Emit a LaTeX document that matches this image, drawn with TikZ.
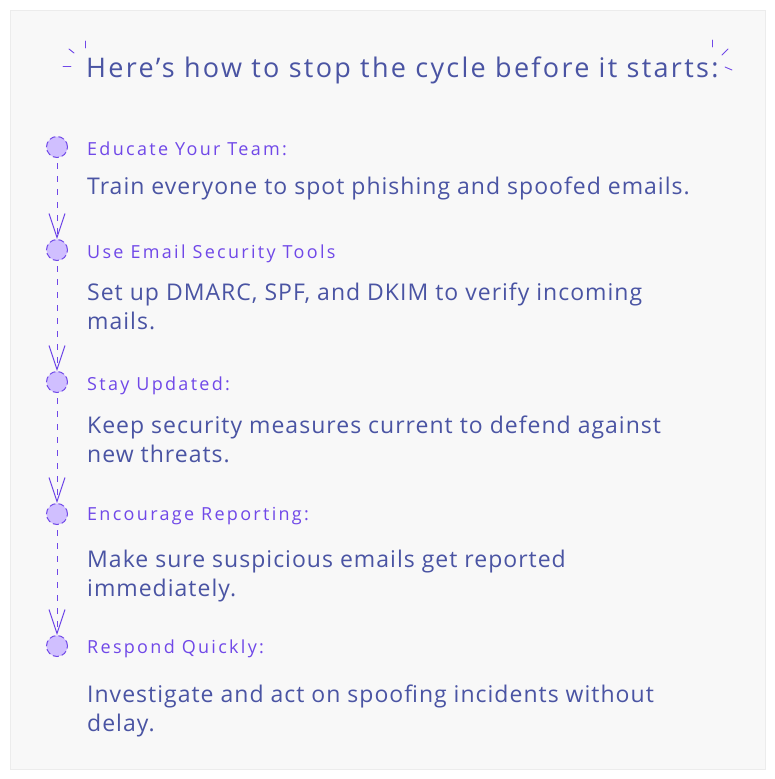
\documentclass[tikz,border=0pt]{standalone}
\usepackage{fontspec}
\setmainfont{Open Sans}
\usetikzlibrary{arrows.meta}
\definecolor{inkblue}{HTML}{4A54A3}
\definecolor{violet}{HTML}{7048E8}
\definecolor{lilac}{HTML}{D0BFFF}
\definecolor{paper}{HTML}{F8F8F8}
\definecolor{rim}{HTML}{ECECEC}
\tikzset{
	dot/.style={circle, draw=violet, fill=lilac, dash pattern=on 6pt off 3pt,
		line width=1pt, minimum size=21pt, inner sep=0pt},
	head/.style={anchor=base west, text=violet, inner sep=0pt,
		font=\fontsize{18}{20}\selectfont\addfontfeatures{LetterSpace=12.8}},
	body/.style={anchor=base west, text=inkblue, align=left, inner sep=0pt,
		font=\fontsize{23}{29}\selectfont\addfontfeatures{LetterSpace=4.4}},
	flow/.style={draw=violet, line width=1pt, dash pattern=on 6pt off 7pt,
		shorten <=5pt, -{Straight Barb[length=24pt,width=16pt,line width=1pt]}},
	spark/.style={draw=violet, line width=0.9pt, line cap=round}
}
\begin{document}
\begin{tikzpicture}[x=1pt,y=-1pt]
	\useasboundingbox (0,0) rectangle (775,779);
	\draw[fill=paper, draw=rim, line width=1pt] (10,10) rectangle (765,769);
	% title with little strokes
	\node[anchor=base west, text=inkblue, inner sep=0pt,
		font=\fontsize{27}{30}\selectfont\addfontfeatures{LetterSpace=8.5}]
		(title) at (86,77) {Here’s how to stop the cycle before it starts:};
	\draw[spark] (69,49) -- (74,53);
	\draw[spark] (85,41) -- (85,48);
	\draw[spark] (63,66) -- (71,66);
	\draw[spark] (712,40) -- (712,47);
	\draw[spark] (722,55) -- (728,49);
	\draw[spark] (725,67) -- (732,70);
	% steps (base = last line)
	\node[dot] (dot1) at (57,147) {};
	\node[head] (head1) at (87,155) {Educate Your Team:};
	\node[body] (body1) at (87,194) {Train everyone to spot phishing and spoofed emails.};
	\node[dot] (dot2) at (57,250) {};
	\node[head] (head2) at (87,258) {Use Email Security Tools};
	\node[body] (body2) at (87,329) {Set up DMARC, SPF, and DKIM to verify incoming\\mails.};
	\node[dot] (dot3) at (57,382) {};
	\node[head] (head3) at (87,390) {Stay Updated:};
	\node[body] (body3) at (87,462) {Keep security measures current to defend against\\new threats.};
	\node[dot] (dot4) at (57,514) {};
	\node[head] (head4) at (87,520) {Encourage Reporting:};
	\node[body] (body4) at (87,596) {Make sure suspicious emails get reported\\immediately.};
	\node[dot] (dot5) at (57,646) {};
	\node[head] (head5) at (87,653) {Respond Quickly:};
	\node[body] (body5) at (87,731) {Investigate and act on spoofing incidents without\\delay.};
	% connectors
	\draw[flow] (dot1) -- (dot2);
	\draw[flow] (dot2) -- (dot3);
	\draw[flow] (dot3) -- (dot4);
	\draw[flow] (dot4) -- (dot5);
\end{tikzpicture}
\end{document}
